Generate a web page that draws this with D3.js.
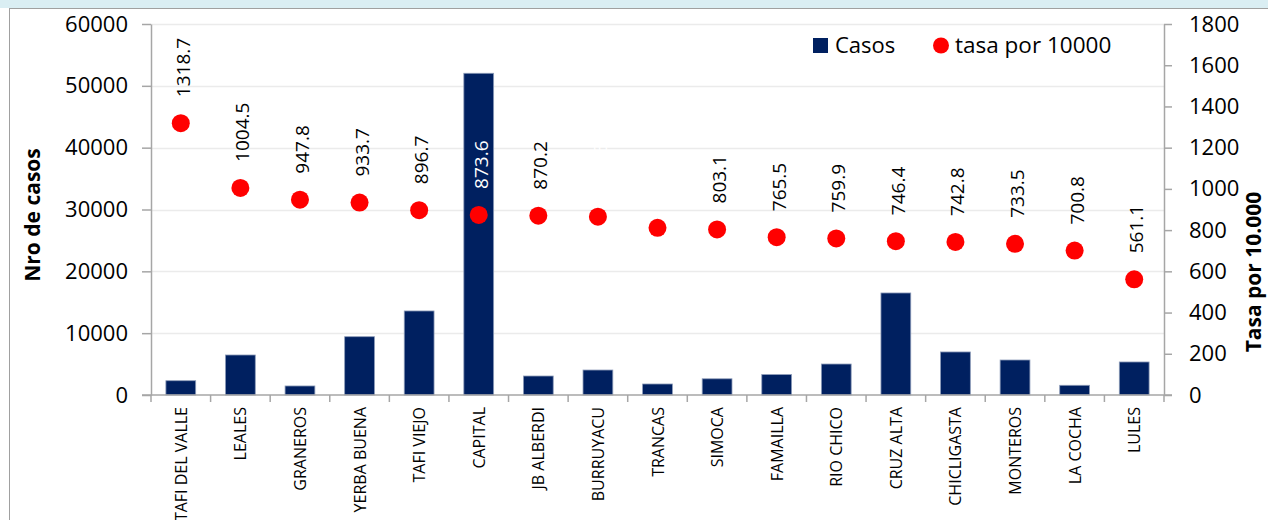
<!DOCTYPE html>
<html>
<head>
<meta charset="utf-8">
<script src="https://cdn.jsdelivr.net/npm/d3@7"></script>
<style>
  body { margin: 0; background: #fff; }
  svg { display: block; font-family: 'Open Sans', sans-serif; }
</style>
</head>
<body>
<div id="chart"></div>
<script>
const municipios = [
  'TAFI DEL VALLE', 'LEALES', 'GRANEROS', 'YERBA BUENA', 'TAFI VIEJO', 'CAPITAL',
  'JB ALBERDI', 'BURRUYACU', 'TRANCAS', 'SIMOCA', 'FAMAILLA', 'RIO CHICO',
  'CRUZ ALTA', 'CHICLIGASTA', 'MONTEROS', 'LA COCHA', 'LULES',
];
const casos = [2310, 6470, 1460, 9430, 13590, 52030, 3070, 4040, 1780, 2620, 3300, 5010, 16500, 6960, 5660, 1570, 5340];
const tasa = [1318.7, 1004.5, 947.8, 933.7, 896.7, 873.6, 870.2, 865.3, 811.2, 803.1, 765.5, 759.9, 746.4, 742.8, 733.5, 700.8, 561.1];
const casosTicks = [0, 10000, 20000, 30000, 40000, 50000, 60000];
const tasaTicks = [0, 200, 400, 600, 800, 1000, 1200, 1400, 1600, 1800];
// etiquetas que en el original salen en blanco
const labelsBlancos = ['CAPITAL', 'BURRUYACU', 'TRANCAS'];

const width = 1268;
const height = 520;
const margin = { top: 24, right: 104, bottom: 125, left: 151 };

const data = municipios.map((name, i) => ({ name, casos: casos[i], tasa: tasa[i] }));

const svg = d3
  .select('#chart')
  .append('svg')
  .attr('width', width)
  .attr('height', height);

// franja superior y borde del panel
svg.append('rect').attr('x', 0).attr('y', 0).attr('width', width).attr('height', 8).attr('fill', '#daeef3');
svg.append('line').attr('x1', 9).attr('x2', width).attr('y1', 8.5).attr('y2', 8.5).attr('stroke', '#a0a0a0');
svg.append('line').attr('x1', 9.5).attr('x2', 9.5).attr('y1', 8).attr('y2', height).attr('stroke', '#a0a0a0');

const x = d3
  .scaleBand()
  .domain(municipios)
  .range([margin.left, width - margin.right])
  .paddingInner(0.5)
  .paddingOuter(0.25);

const y = d3
  .scaleLinear()
  .domain([0, 60000])
  .range([height - margin.bottom, margin.top]);

const y2 = d3
  .scaleLinear()
  .domain([0, 1800])
  .range([height - margin.bottom, margin.top]);

const x0 = margin.left;
const x1 = width - margin.right;
const step = (x1 - x0) / municipios.length;

// grilla
svg
  .append('g')
  .selectAll('line')
  .data(casosTicks.slice(1))
  .join('line')
  .attr('x1', x0)
  .attr('x2', x1)
  .attr('y1', (d) => Math.round(y(d)) + 0.5)
  .attr('y2', (d) => Math.round(y(d)) + 0.5)
  .attr('stroke', '#ebebeb')
  .attr('stroke-width', 1.5);

// barras
svg
  .append('g')
  .selectAll('rect')
  .data(data)
  .join('rect')
  .attr('x', (d) => x(d.name))
  .attr('y', (d) => y(d.casos))
  .attr('width', x.bandwidth())
  .attr('height', (d) => y(0) - y(d.casos))
  .attr('fill', '#002060')
  .attr('stroke', '#8c9bb8')
  .attr('stroke-width', 0.8);

// ejes
const axisColor = '#a6a6a6';
const styleAxis = (g) => {
  g.select('.domain').attr('stroke', axisColor).attr('stroke-width', 1.5);
  g.selectAll('.tick line').attr('stroke', axisColor).attr('stroke-width', 1.5);
  g.selectAll('.tick text').attr('fill', '#000').style('font-size', '22px').style('font-family', "'Open Sans', sans-serif");
};

svg
  .append('g')
  .attr('transform', `translate(${x0},0)`)
  .call(d3.axisLeft(y).tickValues(casosTicks).tickFormat(d3.format('d')).tickSize(9).tickPadding(14).tickSizeOuter(0))
  .call(styleAxis);

svg
  .append('g')
  .attr('transform', `translate(${x1},0)`)
  .call(d3.axisRight(y2).tickValues(tasaTicks).tickFormat(d3.format('d')).tickSize(8).tickPadding(17).tickSizeOuter(0))
  .call(styleAxis);

// eje x con marcas entre categorías
const xAxis = svg.append('g').attr('transform', `translate(0,${y(0)})`);
xAxis
  .append('line')
  .attr('x1', x0 - 9)
  .attr('x2', x1 + 8)
  .attr('stroke', axisColor)
  .attr('stroke-width', 1.5);
xAxis
  .selectAll('line.sep')
  .data(d3.range(municipios.length + 1))
  .join('line')
  .attr('class', 'sep')
  .attr('x1', (i) => x0 + i * step)
  .attr('x2', (i) => x0 + i * step)
  .attr('y1', 0)
  .attr('y2', 7)
  .attr('stroke', axisColor)
  .attr('stroke-width', 1.5);
xAxis
  .selectAll('text')
  .data(municipios)
  .join('text')
  .attr('transform', (d) => `translate(${x(d) + x.bandwidth() / 2 + 6},12) rotate(-90)`)
  .attr('text-anchor', 'end')
  .style('font-size', '16px')
  .text((d) => d);

// puntos de tasa
svg
  .append('g')
  .selectAll('circle')
  .data(data)
  .join('circle')
  .attr('cx', (d) => x(d.name) + x.bandwidth() / 2)
  .attr('cy', (d) => y2(d.tasa))
  .attr('r', 9)
  .attr('fill', '#ff0000');

svg
  .append('g')
  .selectAll('text')
  .data(data)
  .join('text')
  .attr('transform', (d) => `translate(${x(d.name) + x.bandwidth() / 2 + 9},${y2(d.tasa) - 26}) rotate(-90)`)
  .attr('fill', (d) => (labelsBlancos.includes(d.name) ? '#fff' : '#000'))
  .style('font-size', '19px')
  .text((d) => d3.format('.1f')(d.tasa));

// títulos de ejes
svg
  .append('text')
  .attr('transform', `translate(40,215) rotate(-90)`)
  .attr('text-anchor', 'middle')
  .style('font-size', '21px')
  .style('font-weight', 'bold')
  .text('Nro de casos');

svg
  .append('text')
  .attr('transform', `translate(1261,272) rotate(-90)`)
  .attr('text-anchor', 'middle')
  .style('font-size', '21px')
  .style('font-weight', 'bold')
  .text('Tasa por 10.000');

// leyenda
const legend = svg.append('g').attr('transform', 'translate(813,38)');
legend.append('rect').attr('width', 15).attr('height', 15).attr('fill', '#002060');
legend.append('text').attr('x', 22).attr('y', 15).style('font-size', '22px').text('Casos');
legend.append('circle').attr('cx', 128).attr('cy', 7.5).attr('r', 8).attr('fill', '#ff0000');
legend.append('text').attr('x', 142).attr('y', 15).style('font-size', '22.5px').text('tasa por 10000');
</script>
</body>
</html>
